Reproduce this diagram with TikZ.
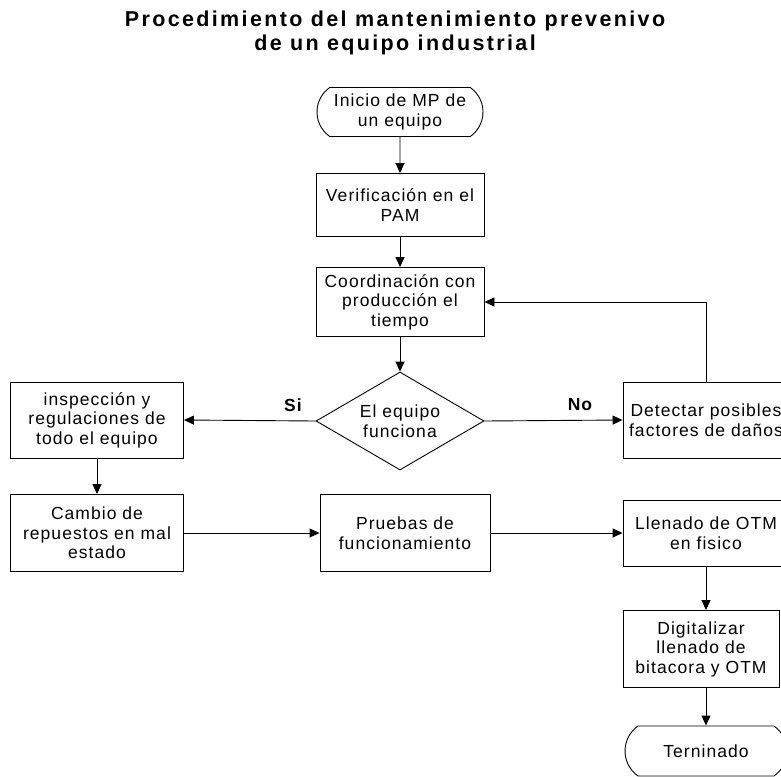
\documentclass[tikz,border=0pt]{standalone}
\usepackage{fontspec}
\setmainfont{Liberation Sans}[LetterSpace=6]
\usetikzlibrary{shapes.geometric,shapes.misc,arrows.meta}

\begin{document}
\begin{tikzpicture}[x=1pt,y=-1pt,
  every node/.style={align=center,draw,line width=0.9pt,inner sep=2pt,
    font=\fontsize{17.5}{19.5}\selectfont},
  proc/.style={shape=rectangle},
  term/.style={shape=rounded rectangle,rounded rectangle arc length=110},
  flow/.style={-{Triangle[length=10pt,width=9pt]},line width=0.9pt},
  lbl/.style={draw=none,font=\fontsize{17.5}{19}\selectfont\bfseries}]
\useasboundingbox (0,0) rectangle (781,776);
\clip (0,0) rectangle (781,776);

\node (titulo) [draw=none,font=\fontsize{21.5}{24}\selectfont\bfseries\addfontfeature{LetterSpace=11}]
 at (395,33)
 {Procedimiento del mantenimiento prevenivo\\de un equipo industrial};

\node (inicio) [term,minimum width=170pt,minimum height=49pt] at (400,112)
 {Inicio de MP de\\un equipo};
\node (verif) [proc,minimum width=168pt,minimum height=63pt] at (400,205)
 {Verificación en el\\PAM};
\node (coord) [proc,minimum width=168pt,minimum height=69pt] at (400,302)
 {Coordinación con\\producción el\\tiempo};
\node (equipo) [shape=diamond,shape aspect=1.7,inner sep=-5pt,
  minimum width=168pt,minimum height=98pt] at (400,421)
 {El equipo\\funciona};
\node (inspec) [proc,minimum width=173pt,minimum height=76pt] at (97,420)
 {inspección y\\regulaciones de\\todo el equipo};
\node (detectar) [proc,minimum width=166pt,minimum height=76pt] at (706,420)
 {Detectar posibles\\factores de daños};
\node (cambio) [proc,minimum width=173pt,minimum height=77pt] at (97,533)
 {Cambio de\\repuestos en mal\\estado};
\node (pruebas) [proc,minimum width=170pt,minimum height=77pt] at (405,533)
 {Pruebas de\\funcionamiento};
\node (llenado) [proc,minimum width=166pt,minimum height=66pt] at (706,533)
 {Llenado de OTM\\en fisico};
\node (digital) [proc,minimum width=156pt,minimum height=77pt] at (701,649)
 {Digitalizar\\llenado de\\bitacora y OTM};
\node (fin) [term,minimum width=166pt,minimum height=50pt] at (706,751)
 {Terninado};

\foreach \a/\b in {inicio/verif,verif/coord,coord/equipo,inspec/cambio,
                   cambio/pruebas,pruebas/llenado}
  \draw [flow] (\a) -- (\b);
\draw [flow] (equipo.west) -- (inspec.east);
\draw [flow] (equipo.east) -- (detectar.west);
\draw [flow] (llenado.south) -- (llenado.south |- digital.north);
\draw [flow] (digital.south -| fin.north) -- (fin.north);
\draw [flow] (detectar.north) |- (coord.east);

\node (si) [lbl] at (293,405) {Si};
\node (no) [lbl] at (580,405) {No};
\end{tikzpicture}
\end{document}
